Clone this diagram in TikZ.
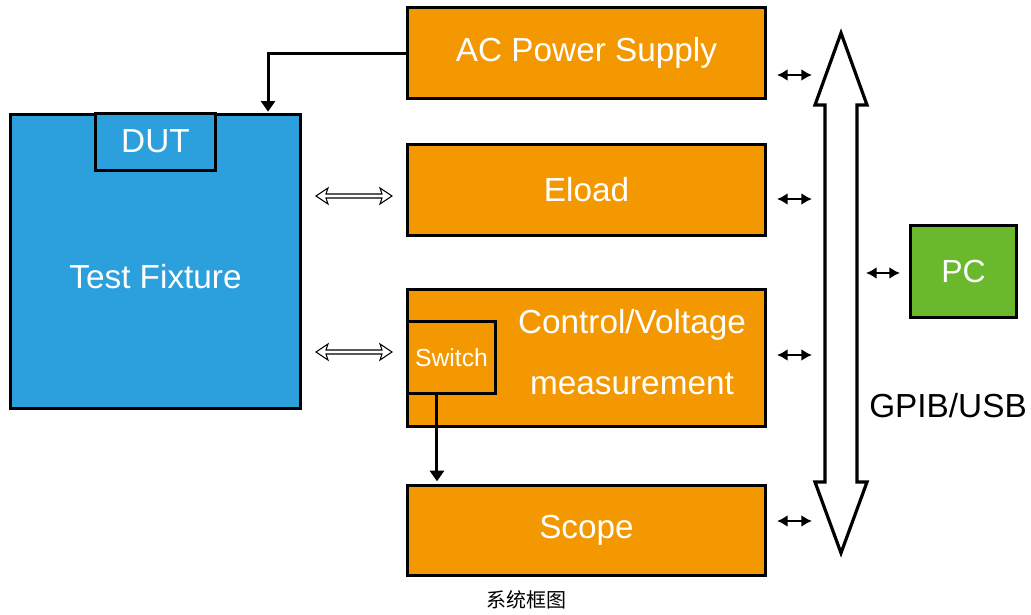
\documentclass[tikz,border=0pt]{standalone}
\usepackage{fontspec}
\setmainfont{Liberation Sans}
\newfontfamily\cjk{Noto Sans CJK SC}
\usetikzlibrary{arrows.meta,calc}
\definecolor{orng}{HTML}{F39800}
\definecolor{fixblue}{HTML}{2BA0DC}
\definecolor{pcgreen}{HTML}{6AB82C}
\tikzset{
  box/.style={draw=black, line width=2.25pt, fill=orng, text=white, font=\fontsize{25}{30}\selectfont, inner sep=0pt},
  lbl/.style={text=white, font=\fontsize{25}{30}\selectfont, inner sep=0pt},
  bi/.style={line width=2.2pt, {Latex[length=8pt,width=9pt]}-{Latex[length=8pt,width=9pt]}},
  feed/.style={line width=2.25pt, -{Triangle[length=8pt,width=10.5pt]}},
  hollow/.style={draw=black, fill=white, line width=0.8pt, line join=miter},
  bus/.style={draw=black, fill=white, line width=2.4pt, line join=miter},
}
\begin{document}
\begin{tikzpicture}[x=0.75pt,y=-0.75pt]
\useasboundingbox (0,0) rectangle (1031,614);
% instrument boxes
\node[box, minimum width=268.5pt, minimum height=68.25pt] (ac) at (586.5,53) {AC Power Supply};
\node[box, minimum width=268.5pt, minimum height=68.25pt] (el) at (586.5,190) {Eload};
\node[box, minimum width=268.5pt, minimum height=102.75pt] (ct) at (586.5,358) {};
\node[lbl] (ct1) at (632,325) {Control/Voltage};
\node[lbl] (ct2) at (632,384) {measurement};
\node[box, minimum width=66pt, minimum height=54pt, font=\fontsize{18.5}{22}\selectfont] (sw) at (451.5,357.5) {Switch};
\node[box, minimum width=268.5pt, minimum height=67.5pt] (sc) at (586.5,530.5) {Scope};
% test fixture
\node[box, fill=fixblue, minimum width=217.5pt, minimum height=220.5pt] (tf) at (155.5,261.5) {};
\node[lbl] (tft) at (155.5,277) {Test Fixture};
\node[box, fill=fixblue, minimum width=90pt, minimum height=42.75pt] (dut) at (155.5,141.5) {DUT};
% PC
\node[box, fill=pcgreen, minimum width=79.5pt, minimum height=69pt, font=\fontsize{24}{28}\selectfont] (pc) at (963.5,271.5) {PC};
\node[inner sep=0pt, font=\fontsize{25}{30}\selectfont] (gp) at (948,406) {GPIB/USB};
% bus (hollow double arrow)
\draw[bus] (841,33) -- (867,105) -- (857,105) -- (857,482) -- (867,482) -- (841,553)
  -- (815,482) -- (825,482) -- (825,105) -- (815,105) -- cycle;
\coordinate (busL1) at (812,75);
\coordinate (busL2) at (812,199);
\coordinate (busL3) at (812,355);
\coordinate (busL4) at (812,521);
\coordinate (busR) at (866,273);
% small bidirectional arrows
\draw[bi] ([xshift=7.5pt]ac.east |- busL1) -- (busL1);
\draw[bi] ([xshift=7.5pt]el.east |- busL2) -- (busL2);
\draw[bi] ([xshift=7.5pt]ct.east |- busL3) -- (busL3);
\draw[bi] ([xshift=7.5pt]sc.east |- busL4) -- (busL4);
\draw[bi] (busR) -- ([xshift=-6.75pt]pc.west |- busR);
% feed arrows
\draw[feed] (ac.west) -| ([xshift=84.4pt,yshift=1pt]tf.north);
\draw[feed] ([xshift=-10.9pt]sw.south) -- ([xshift=-10.9pt,yshift=2pt]sw.south |- sc.north);
% hollow double arrows between fixture and instruments
\foreach \y in {196,352}{
  \draw[hollow] (316,\y) -- (328,\y-8) -- (326,\y-2) -- (382,\y-2) -- (380,\y-8) -- (392,\y)
    -- (380,\y+8) -- (382,\y+2) -- (326,\y+2) -- (328,\y+8) -- cycle;
}
% caption
\node[inner sep=0pt, font=\cjk\fontsize{15}{18}\selectfont] (cap) at (526,600) {系统框图};
\end{tikzpicture}
\end{document}
